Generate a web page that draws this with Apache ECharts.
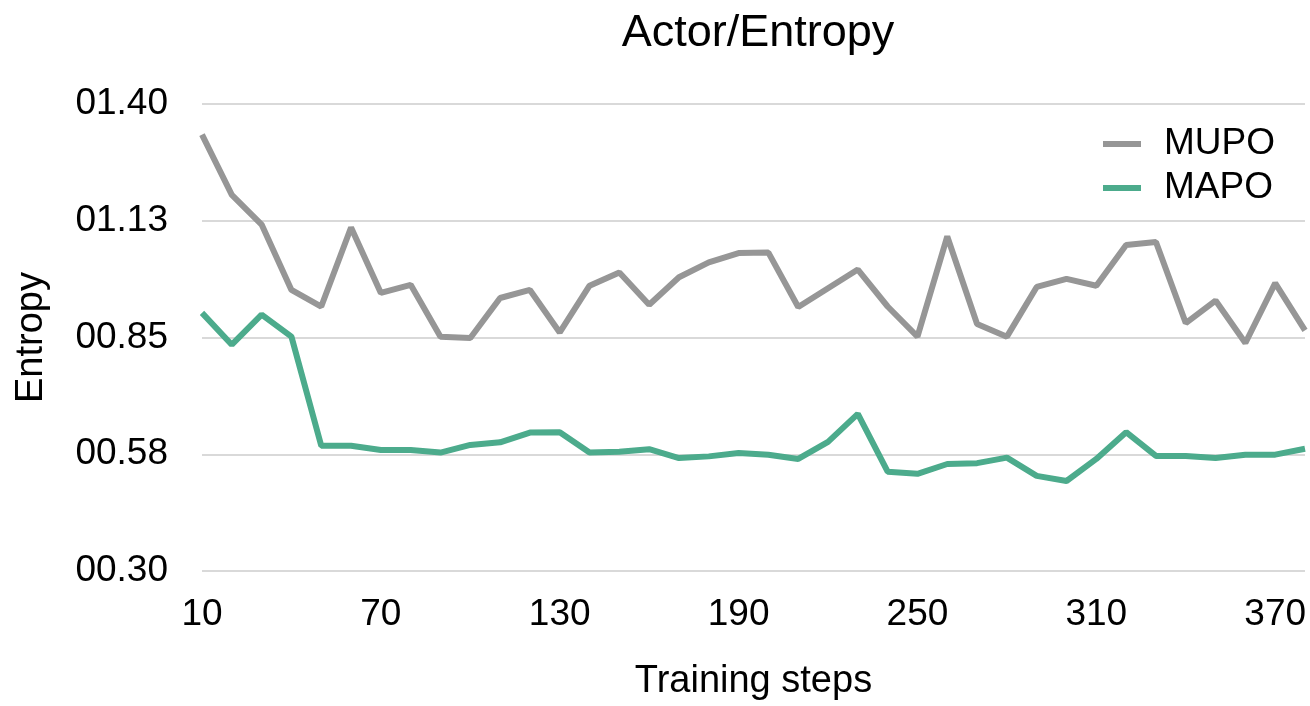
<!DOCTYPE html>
<html>

<head>
    <meta charset="utf-8">
    <title>Actor/Entropy</title>
    <script src="https://cdn.jsdelivr.net/npm/echarts@6/dist/echarts.min.js"></script>
</head>

<body style="margin:0">
    <div id="main" style="width: 1310px;height:706px;"></div>
    <script type="text/javascript">
        // training steps (x categories)
        const steps = [10, 20, 30, 40, 50, 60, 70, 80, 90, 100, 110, 120, 130, 140, 150, 160, 170, 180, 190,
            200, 210, 220, 230, 240, 250, 260, 270, 280, 290, 300, 310, 320, 330, 340, 350, 360, 370, 380]
        // entropy values
        const mupo = [1.328, 1.186, 1.116, 0.962, 0.923, 1.109, 0.955, 0.974, 0.852, 0.849,
            0.943, 0.962, 0.862, 0.972, 1.003, 0.927, 0.992, 1.027, 1.049, 1.050,
            0.922, 0.966, 1.010, 0.923, 0.852, 1.088, 0.882, 0.852, 0.969, 0.988,
            0.972, 1.068, 1.075, 0.884, 0.937, 0.837, 0.978, 0.867]
        const mapo = [0.908, 0.833, 0.904, 0.852, 0.595, 0.595, 0.585, 0.585, 0.579, 0.597,
            0.603, 0.626, 0.627, 0.579, 0.581, 0.587, 0.566, 0.570, 0.578, 0.574,
            0.564, 0.604, 0.670, 0.534, 0.529, 0.552, 0.554, 0.567, 0.524, 0.512,
            0.564, 0.627, 0.571, 0.571, 0.566, 0.574, 0.574, 0.588]
        // y tick labels, bottom to top
        const yTickLabels = ['00.30', '00.58', '00.85', '01.13', '01.40']

        const font = 'Liberation Sans, Helvetica, Arial, sans-serif'

        let myChart = echarts.init(document.getElementById('main'));

        let option = {
            animation: false,
            title: {
                text: 'Actor/Entropy',
                left: 753,
                textAlign: 'center',
                top: 6,
                textStyle: { fontFamily: font, fontSize: 45, fontWeight: 'normal', color: '#000' }
            },
            legend: {
                orient: 'vertical',
                left: 1098,
                top: 120,
                icon: 'rect',
                itemWidth: 38,
                itemHeight: 6,
                itemGap: 6,
                textStyle: { fontFamily: font, fontSize: 37, color: '#000', padding: [0, 0, 0, 18], lineHeight: 38 },
                data: ['MUPO', 'MAPO']
            },
            grid: {
                left: 202,
                right: 5,
                top: 104,
                bottom: 135,
                outerBoundsMode: 'none'
            },
            xAxis: {
                type: 'category',
                data: steps,
                boundaryGap: false,
                name: 'Training steps',
                nameLocation: 'middle',
                nameGap: 92,
                nameTextStyle: { fontFamily: font, fontSize: 38, color: '#000' },
                axisLine: { show: false },
                axisTick: { show: false },
                axisLabel: { interval: 5, margin: 25, fontFamily: font, fontSize: 37, color: '#000' }
            },
            yAxis: {
                type: 'value',
                min: 0.3,
                max: 1.4,
                interval: 0.275,
                name: 'Entropy',
                nameLocation: 'middle',
                nameGap: 151,
                nameTextStyle: { fontFamily: font, fontSize: 38, color: '#000' },
                axisLine: { show: false },
                axisTick: { show: false },
                axisLabel: {
                    margin: 34,
                    fontFamily: font,
                    fontSize: 37,
                    color: '#000',
                    formatter: function (v, i) { return yTickLabels[i] }
                },
                splitLine: { lineStyle: { color: '#cccccc', width: 1.5 } }
            },
            series: [
                {
                    name: 'MUPO',
                    type: 'line',
                    data: mupo,
                    symbol: 'none',
                    color: '#969696',
                    lineStyle: { width: 6, color: '#969696' }
                },
                {
                    name: 'MAPO',
                    type: 'line',
                    data: mapo,
                    symbol: 'none',
                    color: '#4cab8c',
                    lineStyle: { width: 6, color: '#4cab8c' }
                }
            ]
        };

        myChart.setOption(option);
    </script>
</body>

</html>
